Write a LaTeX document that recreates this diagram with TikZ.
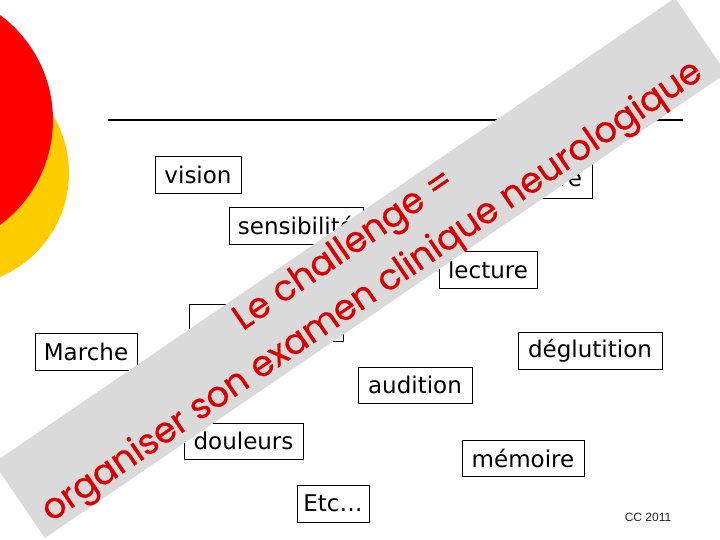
\documentclass[tikz,border=0pt]{standalone}
\usepackage{fontspec}
\newfontfamily\boxfont{DejaVu Sans}
\newfontfamily\bandfont[FakeBold=0.6]{Poppins}
\newfontfamily\ccfont{Liberation Sans}
\definecolor{discred}{RGB}{255,0,0}
\definecolor{discyellow}{RGB}{255,204,0}
\definecolor{bandgray}{RGB}{218,218,218}
\definecolor{bandred}{RGB}{218,0,0}
\tikzset{
  wordbox/.style={draw=black, line width=0.8pt, fill=white, inner sep=0pt,
    minimum height=37pt, font=\boxfont\fontsize{23}{27}\selectfont},
}
\begin{document}
\begin{tikzpicture}[x=1pt,y=-1pt]
\useasboundingbox (0,0) rectangle (720,540);
\clip (0,0) rectangle (720,540);
\fill[white] (0,0) rectangle (720,540);
% discs
\fill[discyellow] (-43.6,173) circle (112.6pt);
\fill[discred] (-77.5,120) circle (130.5pt);
% title rule
\coordinate (ruleL) at (108,120);
\coordinate (ruleR) at (683,120);
\draw[line width=2pt] (ruleL) -- (ruleR);
% word boxes
\node[wordbox, minimum width=86pt] (vision) at (198,174.5) {vision};
\node[wordbox, minimum width=134pt] (sens) at (296,225.5) {sensibilité};
\node[wordbox, minimum width=120pt] (equi) at (532,179.5) {équilibre};
\node[wordbox, minimum width=98pt] (lecture) at (488,269.5) {lecture};
\node[wordbox, minimum width=154pt] (hidden) at (266,322.5) {};
\node[wordbox, minimum width=102pt] (marche) at (86,351.5) {Marche};
\node[wordbox, minimum width=144pt] (deglu) at (590,350.5) {déglutition};
\node[wordbox, minimum width=114pt, minimum height=36pt] (audition) at (415,385) {audition};
\node[wordbox, minimum width=119pt, minimum height=36pt] (douleurs) at (243.5,441) {douleurs};
\node[wordbox, minimum width=122pt, minimum height=36pt] (memoire) at (523,458) {mémoire};
\node[wordbox, minimum width=72pt] (etc) at (333,503.5) {Etc…};
% diagonal band
\node[fill=bandgray, minimum width=825pt, minimum height=91pt, inner sep=0pt, rotate=34.3] (band) at (360,268) {};
\node[rotate=34.3, align=center, text=bandred, inner sep=0pt,
  font=\bandfont\fontsize{35.5}{50}\selectfont] (bandtext) at (359,272)
  {Le challenge =\\organiser son examen clinique neurologique};
% footer
\node[font=\ccfont\fontsize{12}{14}\selectfont, text=black!85] (cc) at (648,517) {CC 2011};
\end{tikzpicture}
\end{document}
